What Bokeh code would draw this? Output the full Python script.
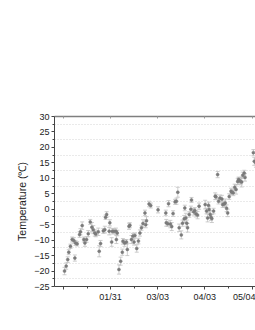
import pandas as pd
from bokeh.plotting import figure
from bokeh.models import (FixedTicker, LinearAxis, Whisker, ColumnDataSource,
                          Range1d, TeeHead)
from bokeh.embed import file_html
from bokeh.resources import INLINE

# days since 12/31 (2018)
day = [0.7, 1.8, 2.8, 3.5, 4.6, 5.7, 6.8, 7.5, 7.9, 9.0,
       10.6, 11.2, 12.3, 13.4, 14.1, 15.2, 16.3, 17.6, 18.7, 19.6,
       20.6, 21.3, 22.9, 23.5, 24.4, 26.2, 27.2, 27.7, 28.4, 30.1,
       30.5, 31.7, 32.1, 33.2, 34.5, 34.8, 35.4, 36.5, 37.6, 38.7,
       39.1, 40.2, 41.4, 42.0, 43.1, 43.7, 44.7, 45.7, 46.4, 47.0,
       48.2, 49.3, 50.3, 51.3, 52.3, 53.6, 54.1, 54.6, 56.3, 57.4,
       62.2, 67.3, 67.6, 68.6, 69.1, 70.3, 71.2, 72.1, 73.4, 74.3,
       75.2, 76.1, 77.5, 78.3, 79.4, 79.8, 80.5, 81.1, 81.6, 82.7,
       83.8, 84.2, 85.6, 86.4, 87.1, 88.2, 89.2, 93.2, 94.1, 94.8,
       95.4, 95.8, 96.5, 97.0, 97.6, 98.7, 99.8, 100.3, 101.4, 102.0,
       102.9, 104.2, 104.7, 105.7, 106.4, 107.3, 108.0, 109.0, 110.2, 110.8,
       111.7, 112.6, 113.5, 114.6, 115.2, 115.6, 116.6, 117.2, 117.9, 118.9,
       119.4, 124.9, 125.5, 126.6]

temp = [-20.0, -18.4, -16.3, -13.9, -12.0, -9.8, -10.1, -15.8, -10.9, -11.2,
        -8.2, -7.3, -5.3, -9.8, -10.9, -9.8, -7.9, -4.1, -5.8, -6.6,
        -7.7, -8.0, -7.3, -13.6, -11.1, -7.0, -6.6, -2.6, -1.7, -7.1,
        -4.4, -10.6, -7.1, -7.1, -7.1, -9.8, -7.7, -19.5, -16.8, -13.9,
        -10.4, -10.9, -10.6, -13.0, -5.5, -5.2, -9.8, -8.7, -10.6, -8.5,
        -12.7, -10.3, -7.7, -6.0, -4.6, -1.2, -5.0, -3.7, 1.7, 1.2,
        -0.2, -1.2, -4.4, -4.7, 1.8, -4.8, -5.6, -1.4, 2.4, 2.6,
        5.5, -6.0, -8.3, -4.5, -3.1, 0.4, -2.8, -4.5, -6.0, -1.7,
        0.0, 3.0, -0.8, -0.4, -1.5, -1.9, 1.0, 1.5, -0.6, -2.8,
        1.3, -0.1, -1.7, -2.6, -3.0, -0.6, 4.2, 4.0, 11.2, 2.6,
        3.6, 3.3, 1.5, 1.7, 2.0, 0.3, -1.2, 4.1, 5.8, 5.5,
        5.3, 7.1, 6.4, 9.0, 9.6, 9.3, 9.0, 8.8, 11.0, 11.7,
        10.3, 18.3, 15.5, 15.0]

err = [1.2, 1.0, 0.9, 0.8, 0.7, 0.8, 0.9, 1.0, 0.8, 0.7,
       0.9, 1.0, 1.2, 0.8, 1.1, 0.9, 1.0, 0.8, 1.5, 1.3,
       1.0, 0.9, 1.2, 1.8, 1.0, 0.8, 1.1, 0.7, 0.9, 1.2,
       1.0, 1.4, 0.9, 0.8, 1.0, 1.3, 0.9, 1.5, 1.3, 1.0,
       0.9, 1.1, 0.8, 2.0, 1.0, 0.8, 1.3, 0.9, 1.0, 0.8,
       1.2, 0.9, 1.0, 0.8, 1.2, 0.9, 1.0, 1.3, 0.9, 0.8,
       1.0, 0.9, 1.1, 0.8, 1.0, 1.2, 1.3, 0.9, 0.8, 1.0,
       1.6, 1.2, 1.3, 1.0, 1.1, 0.9, 1.5, 1.0, 1.4, 0.9,
       1.0, 0.8, 1.1, 0.9, 1.0, 1.2, 1.0, 1.4, 0.9, 1.3,
       1.0, 0.9, 1.2, 1.0, 1.3, 0.9, 1.1, 0.8, 1.0, 0.9,
       1.0, 1.2, 0.9, 1.0, 1.3, 1.1, 1.2, 0.9, 1.0, 0.8,
       0.9, 1.0, 1.5, 1.0, 0.8, 0.9, 1.1, 1.6, 1.0, 0.9,
       1.2, 1.0, 1.3, 1.4]

tick_days = [0, 31, 62, 93, 124]
tick_labels = ["", "01/31", "03/03", "04/03", "05/04"]
minor_days = [15.5, 46.5, 77.5, 108.5]
y_ticks = [-25, -20, -15, -10, -5, 0, 5, 10, 15, 20, 25, 30]
y_minor = [-22.5, -17.5, -12.5, -7.5, -2.5, 2.5, 7.5, 12.5, 17.5, 22.5, 27.5]

df = pd.DataFrame({"day": day, "temp": temp, "err": err})
df["lo"] = df["temp"] - df["err"]
df["hi"] = df["temp"] + df["err"]
src = ColumnDataSource(df)

FONT = "Liberation Sans"

p = figure(width=255, height=330, output_backend="svg", toolbar_location=None,
           x_range=Range1d(-5.9, 126.3), y_range=Range1d(-25, 30),
           min_border_left=54, min_border_right=0, min_border_top=116,
           min_border_bottom=44)
p.outline_line_color = None
p.background_fill_color = "white"

p.xgrid.visible = False
p.ygrid.ticker = FixedTicker(ticks=y_minor)
p.ygrid.grid_line_color = "#d4d4d4"
p.ygrid.grid_line_dash = "1 2"
p.ygrid.grid_line_width = 1

# y axis
ya = p.yaxis[0]
ya.ticker = FixedTicker(ticks=y_ticks, minor_ticks=y_minor)
ya.axis_label = "Temperature (℃)"
ya.axis_label_text_font = FONT
ya.axis_label_text_font_size = "10.5px"
ya.axis_label_text_font_style = "normal"
ya.axis_label_text_color = "#222222"
ya.axis_label_standoff = 3
ya.major_label_text_font = FONT
ya.major_label_text_font_size = "9px"
ya.major_label_text_color = "#222222"
ya.major_label_standoff = 2
ya.axis_line_color = "#444444"
ya.major_tick_line_color = "#444444"
ya.minor_tick_line_color = "#444444"
ya.major_tick_out = 3
ya.major_tick_in = 0
ya.minor_tick_out = 2
ya.minor_tick_in = 0

# x axis
xa = p.xaxis[0]
xa.ticker = FixedTicker(ticks=tick_days, minor_ticks=minor_days)
xa.major_label_overrides = {d: lab for d, lab in zip(tick_days, tick_labels)}
xa.major_label_text_font = FONT
xa.major_label_text_font_size = "9px"
xa.major_label_text_color = "#222222"
xa.major_label_standoff = 2
xa.axis_line_color = "#444444"
xa.major_tick_line_color = "#444444"
xa.minor_tick_line_color = "#444444"
xa.major_tick_out = 3
xa.major_tick_in = 0
xa.minor_tick_out = 2
xa.minor_tick_in = 0

# top border line
top = LinearAxis(ticker=FixedTicker(ticks=tick_days, minor_ticks=minor_days))
top.major_label_overrides = {d: "" for d in tick_days}
top.axis_line_color = "#7f7f7f"
top.axis_line_width = 1.5
top.major_tick_line_color = "#9a9a9a"
top.minor_tick_line_color = None
top.major_tick_in = 2
top.major_tick_out = 0
p.add_layout(top, "above")

wh = Whisker(source=src, base="day", lower="lo", upper="hi",
             line_color="#c0c0c0", line_width=0.8,
             upper_head=TeeHead(size=4, line_color="#c0c0c0", line_width=0.8),
             lower_head=TeeHead(size=4, line_color="#c0c0c0", line_width=0.8))
p.add_layout(wh)

p.scatter("day", "temp", source=src, marker="circle", size=3.0,
          fill_color="#7a7a7a", line_color="#7a7a7a", line_width=0.5)

open("out.html", "w").write(file_html(p, INLINE))
